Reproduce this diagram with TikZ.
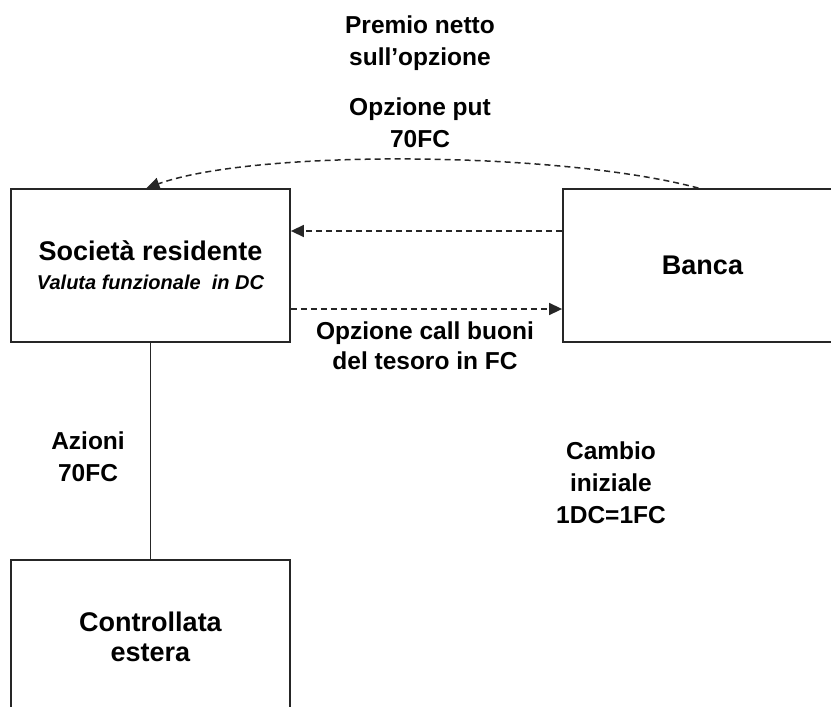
\documentclass[tikz,border=0pt]{standalone}
\usepackage{fontspec}
\setmainfont{Liberation Sans}
\usetikzlibrary{arrows.meta}
\begin{document}
\begin{tikzpicture}[x=1pt,y=-1pt,
  box/.style={draw=black!85,line width=1.8pt,minimum width=279pt,minimum height=153pt,inner sep=0pt,align=center,font=\bfseries\fontsize{27}{30}\selectfont},
  lbl/.style={inner sep=0pt,align=center,font=\bfseries\fontsize{24.5}{32}\selectfont},
  dasharrow/.style={draw=black!85,line width=1.5pt,dash pattern=on 6pt off 4pt,-{Triangle[length=13pt,width=12pt]}}]
\useasboundingbox (0,0) rectangle (831,707);
\clip (0,0) rectangle (831,707);
\node[box] (soc) at (150.5,265.5) {Società residente\\[-1pt]{\itshape\fontsize{20}{24}\selectfont Valuta funzionale\ \ in DC}};
\node[box] (banca) at (702.5,265.5) {Banca};
\node[box] (contr) at (150.5,636.5) {Controllata\\[0pt]estera};
\node[lbl] (premio) at (420,43) {Premio netto\\sull’opzione};
\node[lbl] (put) at (420,123) {Opzione put\\70FC};
\node[lbl,font=\bfseries\fontsize{24.5}{30}\selectfont] (call) at (425,346) {Opzione call buoni\\del tesoro in FC};
\node[lbl,font=\bfseries\fontsize{24.5}{32}\selectfont] (azioni) at (88,457) {Azioni\\70FC};
\node[lbl,font=\bfseries\fontsize{24.5}{32}\selectfont] (cambio) at (611,483) {Cambio\\iniziale\\1DC=1FC};
\draw[dasharrow] ([xshift=-4pt]banca.north) .. controls (560,151) and (255,149) .. ([xshift=-4pt]soc.north);
\draw[dasharrow] (banca.west |- 0,231) -- (soc.east |- 0,231);
\draw[dasharrow] (soc.east |- 0,309) -- (banca.west |- 0,309);
\draw[draw=black!85,line width=1.6pt] (soc.south) -- (contr.north);
\end{tikzpicture}
\end{document}
